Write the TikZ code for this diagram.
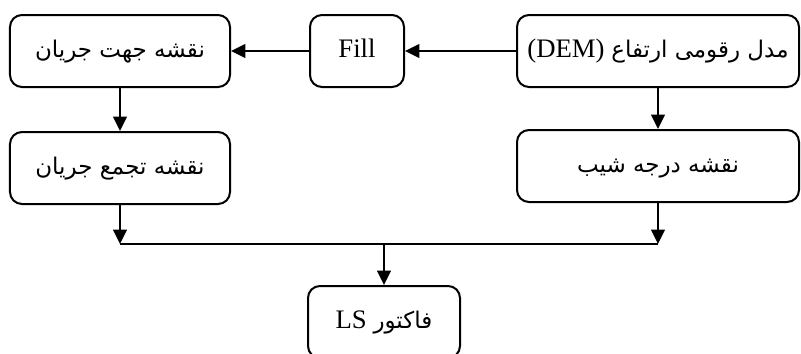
\documentclass[tikz,border=0pt]{standalone}
\usepackage{fontspec}
\setmainfont{Liberation Serif}
\newfontfamily\arabicfont[Script=Arabic,Scale=0.86]{DejaVu Sans}
\TeXXeTstate=1
\newcommand{\fa}[1]{{\arabicfont\beginR #1\endR}}
\usetikzlibrary{arrows.meta,positioning}

\begin{document}
\begin{tikzpicture}[>={Triangle[length=0.36cm,width=0.34cm]},line width=0.05cm,on grid,auto]
            \tikzstyle{box}=[draw,rounded corners=0.3cm,fill=white,minimum height=1.8cm,inner xsep=2pt,text height=0.5cm,text depth=0.2cm,font=\fontsize{19}{23}\selectfont]

            \useasboundingbox (0,0) rectangle (20.025,-8.825);

            \node[box, minimum width=7.05cm] (dem)   at (16.45,-1.275)    {(DEM) \fa{مدل رقومی ارتفاع}};
            \node[box, minimum width=2.35cm] (fill)  [left=7.525cm of dem] {Fill};
            \node[box, minimum width=5.5cm]  (flow)  [left=5.925cm of fill] {\fa{نقشه جهت جریان}};
            \node[box, minimum width=5.5cm]  (accum) [below=2.925cm of flow] {\fa{نقشه تجمع جریان}};
            \node[box, minimum width=7.05cm] (slope) [below=2.875cm of dem] {\fa{نقشه درجه شیب}};
            \node[box, minimum width=3.8cm]  (ls)    at (9.6,-8.05)      {LS \fa{فاکتور}};
            \coordinate (join) at (9.6,-6.1);

            \path[->]
                    (dem)  edge (fill)
                    (fill) edge (flow)
                    (flow) edge (accum)
                    (dem)  edge (slope)
                    (accum) edge (accum |- join)
                    (slope) edge (slope |- join)
                    (join) edge (ls)
                ;
            \draw (accum |- join) -- (slope |- join);
        \end{tikzpicture}
\end{document}
